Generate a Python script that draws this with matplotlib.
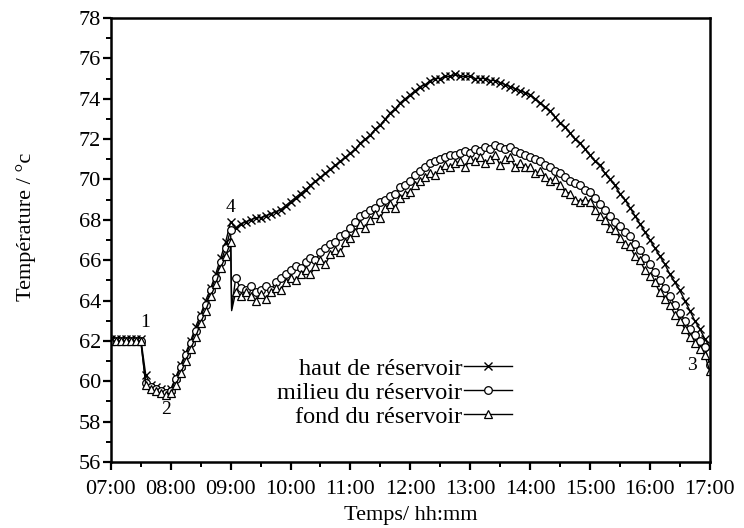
import numpy as np
import matplotlib
matplotlib.use('Agg')
import matplotlib.pyplot as plt
from matplotlib.ticker import MultipleLocator, FuncFormatter

plt.rcParams['font.family'] = ['Liberation Serif', 'DejaVu Serif']

# time grid: 07:00 -> 17:00, one reading every 5 min (in hours)
times = np.arange(7 * 60, 17 * 60 + 1, 5) / 60.0

# haut de réservoir
top = [62.1, 62.1, 62.1, 62.1, 62.1, 62.1, 62.1,
       60.3, 59.8, 59.7, 59.6, 59.5,
       59.6, 60.2, 60.8, 61.4, 62.0, 62.7, 63.3, 64.0, 64.6, 65.3, 66.1, 66.9,
       67.9, 67.6, 67.8, 67.9, 68.0, 68.1, 68.1, 68.2, 68.3, 68.4, 68.5, 68.7,
       68.9, 69.1, 69.3, 69.5, 69.7, 69.9, 70.1, 70.3, 70.5, 70.7, 70.9, 71.1,
       71.3, 71.5, 71.8, 72.0, 72.2, 72.5, 72.7, 73.0, 73.3, 73.5, 73.8, 74.0,
       74.2, 74.4, 74.6, 74.7, 74.9, 75.0, 75.0, 75.1, 75.1, 75.2, 75.1, 75.1,
       75.1, 75.0, 75.0, 75.0, 74.9, 74.9, 74.8, 74.7, 74.6, 74.5, 74.4, 74.3,
       74.2, 74.0, 73.8, 73.6, 73.4, 73.1, 72.8, 72.6, 72.3, 72.0, 71.8, 71.5,
       71.2, 70.9, 70.7, 70.3, 70.0, 69.7, 69.3, 69.0, 68.6, 68.2, 67.8, 67.4,
       67.0, 66.6, 66.2, 65.8, 65.3, 64.9, 64.5, 64.0, 63.5, 63.0, 62.6, 62.1,
       61.7]

# milieu du réservoir
mid = [62.0, 62.0, 62.0, 62.0, 62.0, 62.0, 62.0,
       59.9, 59.7, 59.6, 59.5, 59.4,
       59.5, 60.1, 60.7, 61.3, 61.9, 62.5, 63.2, 63.8, 64.5, 65.1, 65.9, 66.6,
       67.5, 65.1, 64.6, 64.5, 64.7, 64.4, 64.5, 64.7, 64.5, 64.9, 65.1, 65.3,
       65.5, 65.7, 65.6, 65.9, 66.1, 66.0, 66.4, 66.6, 66.8, 66.9, 67.2, 67.3,
       67.6, 67.9, 68.2, 68.3, 68.5, 68.6, 68.9, 69.0, 69.2, 69.3, 69.6, 69.7,
       69.9, 70.2, 70.4, 70.6, 70.8, 70.9, 71.0, 71.1, 71.2, 71.2, 71.3, 71.4,
       71.3, 71.5, 71.4, 71.6, 71.5, 71.7, 71.6, 71.5, 71.6, 71.4, 71.3, 71.2,
       71.1, 71.0, 70.9, 70.7, 70.6, 70.4, 70.3, 70.1, 69.9, 69.8, 69.7, 69.5,
       69.4, 69.1, 68.8, 68.5, 68.2, 67.9, 67.7, 67.4, 67.2, 66.8, 66.5, 66.1,
       65.8, 65.4, 65.0, 64.6, 64.2, 63.8, 63.4, 63.0, 62.6, 62.3, 62.0, 61.7,
       60.8]

# fond du réservoir
bot = [62.0, 62.0, 62.0, 62.0, 62.0, 62.0, 62.0,
       59.8, 59.6, 59.5, 59.4, 59.3,
       59.4, 59.8, 60.4, 61.0, 61.6, 62.2, 62.9, 63.5, 64.2, 64.8, 65.6, 66.2,
       66.9, 64.4, 64.2, 64.4, 64.2, 64.0, 64.3, 64.1, 64.4, 64.6, 64.5, 64.9,
       65.1, 65.0, 65.3, 65.5, 65.3, 65.7, 66.0, 65.8, 66.3, 66.5, 66.4, 66.9,
       67.1, 67.4, 67.8, 67.6, 68.0, 68.3, 68.1, 68.6, 68.8, 68.6, 69.1, 69.3,
       69.4, 69.7, 69.9, 70.1, 70.3, 70.2, 70.5, 70.7, 70.6, 70.8, 70.9, 70.6,
       71.0, 70.9, 71.1, 70.8, 71.0, 71.2, 70.7, 71.0, 71.1, 70.6, 70.8, 70.6,
       70.6, 70.3, 70.4, 70.1, 69.9, 70.0, 69.7, 69.4, 69.3, 69.0, 68.9, 69.0,
       68.9, 68.5, 68.2, 68.0, 67.6, 67.5, 67.1, 66.8, 66.7, 66.2, 66.0, 65.5,
       65.2, 64.9, 64.4, 64.1, 63.8, 63.3, 63.0, 62.6, 62.2, 61.9, 61.6, 61.3,
       60.5]

# short dip of the sensors just after 09:00 (no marker there)
spike_time = 9.0 + 1.0 / 60
spike_mid = 63.6
spike_bot = 63.5

labels = ['haut de réservoir', 'milieu du réservoir', 'fond du réservoir']
point_labels = ['1', '2', '3', '4']
point_pos = [(7.58, 62.9), (7.93, 58.6), (16.7, 60.8), (9.0, 68.6)]

idx = int(np.searchsorted(times, spike_time))
t_spk = np.insert(times, idx, spike_time)
mid_spk = np.insert(np.array(mid), idx, spike_mid)
bot_spk = np.insert(np.array(bot), idx, spike_bot)
marks = [i for i in range(len(t_spk)) if i != idx]

fig = plt.figure(figsize=(7.44, 5.28), dpi=100)
ax = fig.add_axes([0.149, 0.125, 0.805, 0.841])

ax.plot(times, top, color='black', lw=1.0, marker='x', ms=6, mew=1.0,
        label=labels[0])
ax.plot(t_spk, mid_spk, color='black', lw=1.0, marker='o', ms=5.5, mew=0.9,
        mfc='white', markevery=marks, label=labels[1])
ax.plot(t_spk, bot_spk, color='black', lw=1.0, marker='^', ms=6, mew=0.9,
        mfc='white', markevery=marks, label=labels[2])

for txt, (px, py) in zip(point_labels, point_pos):
    ax.text(px, py, txt, fontsize=14, ha='center', va='center')

ax.set_xlim(7, 17)
ax.set_ylim(56, 78)
ax.xaxis.set_major_locator(MultipleLocator(1))
ax.xaxis.set_minor_locator(MultipleLocator(0.5))
ax.yaxis.set_major_locator(MultipleLocator(2))
ax.yaxis.set_minor_locator(MultipleLocator(1))
ax.xaxis.set_major_formatter(FuncFormatter(lambda v, p: '%02d:%02d' % (int(v), round((v - int(v)) * 60))))

ax.tick_params(which='major', direction='out', length=6, width=1.6, labelsize=16,
               top=False, right=False)
ax.tick_params(axis='x', which='major', pad=7)
ax.tick_params(axis='y', which='major', pad=1)
ax.tick_params(which='minor', direction='out', length=3.5, width=1.4,
               top=False, right=False)
for s in ax.spines.values():
    s.set_linewidth(1.8)

ax.set_xlabel('Temps/ hh:mm', fontsize=16)
ax.set_ylabel('Température / °c', fontsize=16)
ax.xaxis.set_label_coords(0.5, -0.1)
ax.yaxis.set_label_coords(-0.125, 0.53)

ax.legend(loc='upper right', bbox_to_anchor=(0.67, 0.235), frameon=False,
          markerfirst=False, fontsize=17.5, handlelength=2.0, handletextpad=0.05,
          labelspacing=0.08, borderpad=0, borderaxespad=0)

plt.savefig('out.png', dpi=100)
